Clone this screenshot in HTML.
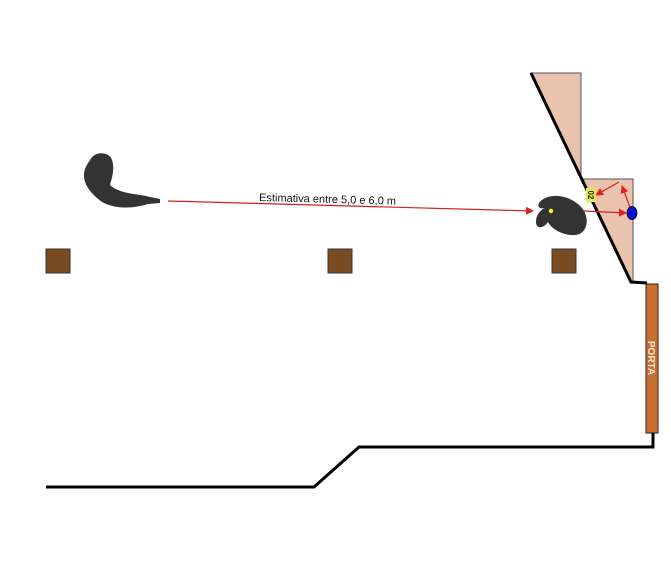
<!DOCTYPE html>
<html><head><meta charset="utf-8"><style>
html,body{margin:0;padding:0;background:#fff;width:671px;height:561px;overflow:hidden}
</style></head><body>
<svg width="671" height="561" viewBox="0 0 671 561" xmlns="http://www.w3.org/2000/svg">
<defs><marker id="ah" markerWidth="8" markerHeight="8" refX="7" refY="4" orient="auto" markerUnits="userSpaceOnUse"><path d="M0,0 L8,4 L0,8 Z" fill="#e02020"/></marker></defs>
<polygon points="531,73 581,73 581,177" fill="#e9c3ad" stroke="#555" stroke-width="1"/>
<polygon points="582,179 633,179 633,282 631,282" fill="#e9c3ad" stroke="#555" stroke-width="1"/>
<polyline points="531,73 631,282 647,283" fill="none" stroke="#000" stroke-width="3"/>
<rect x="646" y="284" width="12" height="149" fill="#c8702f" stroke="#222" stroke-width="1"/>
<text x="0" y="0" transform="translate(648,358) rotate(90)" text-anchor="middle" font-family="Liberation Sans, sans-serif" font-size="10" font-weight="bold" fill="#f5e6d8">PORTA</text>
<polyline points="653,433 653,447 359,447 314,487 46,487" fill="none" stroke="#000" stroke-width="3"/>
<rect x="46" y="249" width="24" height="24" fill="#7a4a22" stroke="#333"/>
<rect x="328" y="249" width="24" height="24" fill="#7a4a22" stroke="#333"/>
<rect x="552" y="249" width="24" height="24" fill="#7a4a22" stroke="#333"/>
<path d="M90,160 C95,150 110,152 112,160 C115,168 112,178 110,185 C118,193 135,194 146,196 L150,197 L160,199 L160,203 L148,204 C132,209 115,209 102,202 C94,196 88,190 85,182 C82,172 86,166 90,160 Z" fill="#333"/>
<line x1="168" y1="201" x2="533" y2="211" stroke="#d02020" stroke-width="1.2" marker-end="url(#ah)"/>
<text x="0" y="0" transform="translate(259,201) rotate(1.5)" font-family="Liberation Sans, sans-serif" font-size="11" fill="#111">Estimativa entre 5,0 e 6,0 m</text>
<path d="M542,200 C552,192 572,196 582,208 C590,218 588,234 575,235 C565,236 552,230 548,222 C544,228 536,230 536,222 C536,215 540,210 545,208 C538,210 536,204 542,200 Z" fill="#333"/>
<circle cx="551" cy="211" r="2.2" fill="#ff0"/>
<line x1="584" y1="211" x2="626" y2="213" stroke="#d02020" stroke-width="1.2" marker-end="url(#ah)"/>
<line x1="631" y1="210" x2="622" y2="186" stroke="#d02020" stroke-width="1.2" marker-end="url(#ah)"/>
<line x1="619" y1="182" x2="596" y2="195" stroke="#d02020" stroke-width="1.2" marker-end="url(#ah)"/>
<ellipse cx="632" cy="213" rx="5" ry="6.5" fill="#1010d0" stroke="#000" stroke-width="0.8"/>
<rect x="586" y="188" width="10" height="14" fill="#e8e84a"/>
<text x="0" y="0" transform="translate(588,195) rotate(90)" text-anchor="middle" font-family="Liberation Sans, sans-serif" font-size="8" font-weight="bold" fill="#222">02</text>
</svg>
</body></html>
